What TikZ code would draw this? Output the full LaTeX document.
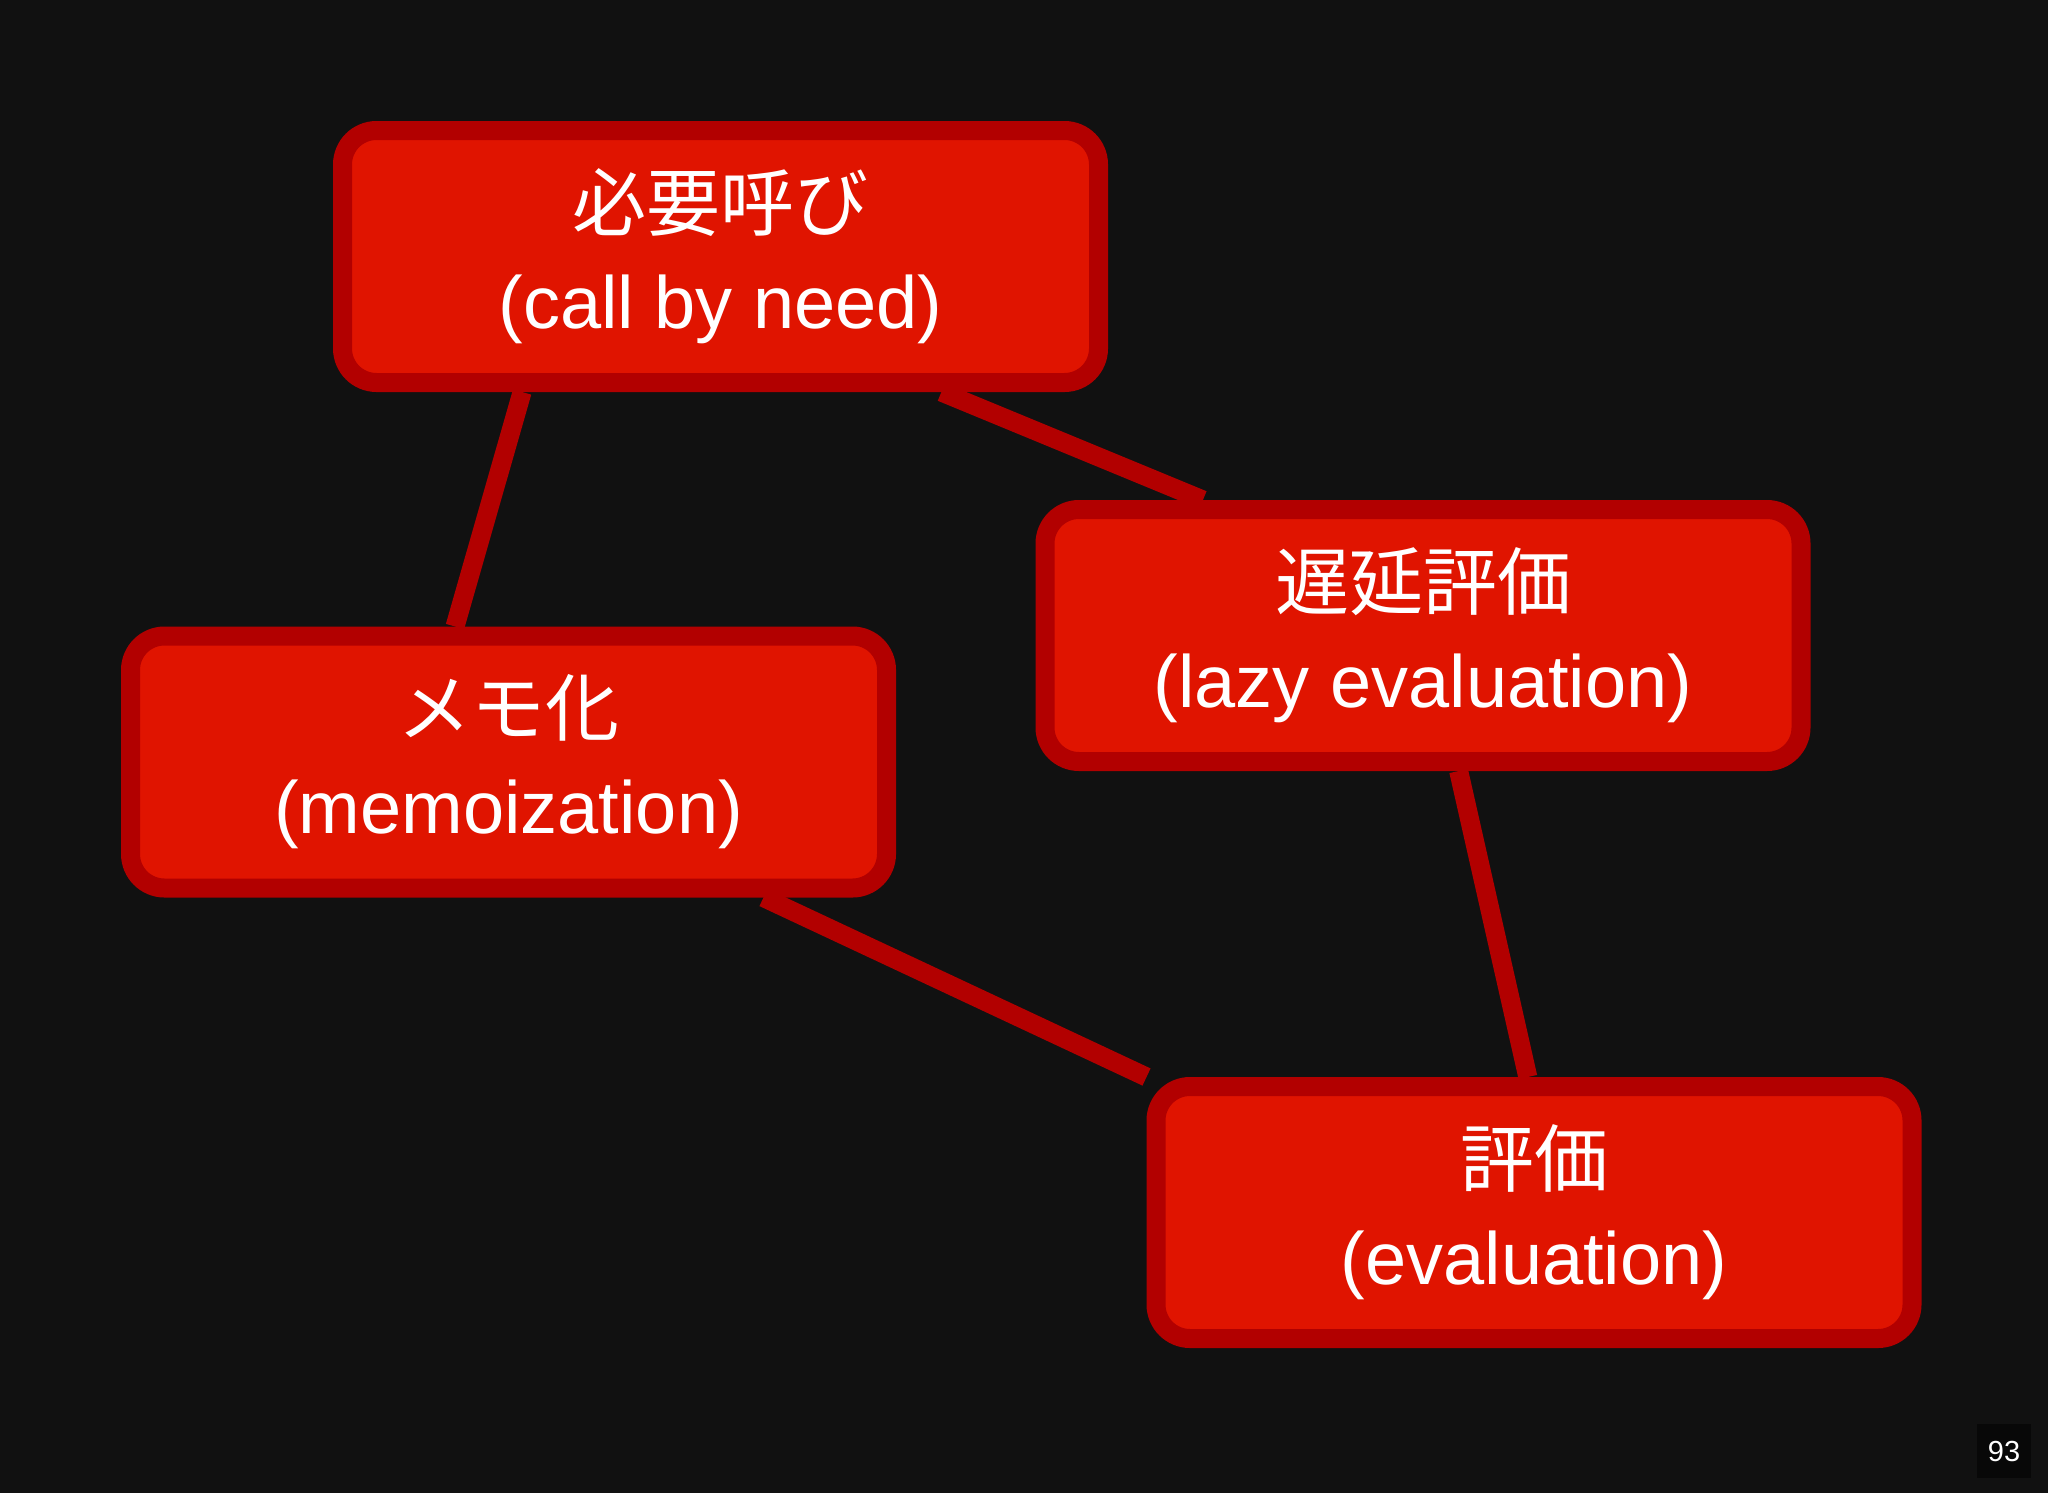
\documentclass[tikz,border=0pt]{standalone}
\usepackage{fontspec}
\setmainfont{Liberation Sans}
\newfontfamily\jp{Noto Sans CJK JP}
\definecolor{bgc}{RGB}{17,17,17}
\definecolor{boxfill}{RGB}{224,20,0}
\definecolor{boxline}{RGB}{178,0,0}
\definecolor{numbg}{RGB}{8,8,8}
\usetikzlibrary{calc}
\pgfdeclarelayer{bglayer}
\pgfdeclarelayer{linklayer}
\pgfsetlayers{bglayer,linklayer,main}
\tikzset{
  conc/.style={draw=boxline, fill=boxfill, line width=9.5pt, rounded corners=17pt,
    minimum width=378pt, minimum height=126pt, inner sep=0pt, align=center,
    text=white, font=\fontsize{37}{49}\selectfont},
  link/.style={draw=boxline, line width=9.5pt}
}
\begin{document}
\begin{tikzpicture}[x=0.5pt,y=-0.5pt]
\begin{pgfonlayer}{bglayer}
\fill[bgc] (0,0) rectangle (2048,1493);
\end{pgfonlayer}
\useasboundingbox (0,0) rectangle (2048,1493);
\node[conc] (top) at (720.5,256.5) {{\jp 必要呼び}\\(call by need)};
\node[conc] (memo) at (508.5,762) {{\jp メモ化}\\(memoization)};
\node[conc] (lazy) at (1423,635.5) {{\jp 遅延評価}\\(lazy evaluation)};
\node[conc] (eval) at (1534,1212.5) {{\jp 評価}\\(evaluation)};
\begin{pgfonlayer}{linklayer}
\draw[link] ($(top.south west)!0.244!(top.south east)$) -- ($(memo.north west)!0.431!(memo.north east)$);
\draw[link] ($(top.south west)!0.785!(top.south east)$) -- ($(lazy.north west)!0.216!(lazy.north east)$);
\draw[link] ($(memo.south west)!0.829!(memo.south east)$) -- (eval.north west);
\draw[link] ($(lazy.south west)!0.546!(lazy.south east)$) -- ($(eval.north west)!0.492!(eval.north east)$);
\end{pgfonlayer}
\node[fill=numbg, minimum width=27pt, minimum height=27pt, inner sep=0pt, text=white, font=\fontsize{14.5}{16}\selectfont] (num) at (2004,1451) {93};
\end{tikzpicture}
\end{document}
